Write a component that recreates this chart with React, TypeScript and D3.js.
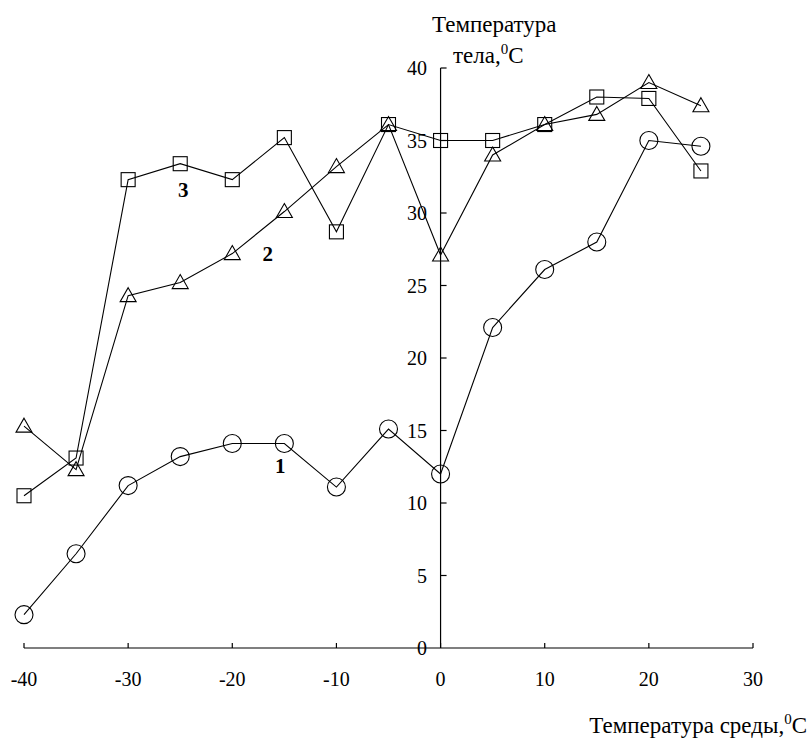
import * as d3 from 'd3';

// air temperature, °C
const airTemp = [-40, -35, -30, -25, -20, -15, -10, -5, 0, 5, 10, 15, 20, 25];
// body temperature, °C — three series
const series1 = [2.3, 6.5, 11.2, 13.2, 14.1, 14.1, 11.1, 15.1, 12.0, 22.1, 26.1, 28.0, 35.0, 34.6];
const series2 = [15.3, 12.3, 24.3, 25.2, 27.2, 30.1, 33.2, 36.1, 27.1, 34.0, 36.1, 36.8, 39.0, 37.4];
const series3 = [10.5, 13.1, 32.3, 33.4, 32.3, 35.2, 28.7, 36.1, 35.0, 35.0, 36.1, 38.0, 37.9, 32.9];
const xTicks = [-40, -30, -20, -10, 0, 10, 20, 30];
const yTicks = [0, 5, 10, 15, 20, 25, 30, 35, 40];
const seriesLabels = [
  { text: '1', x: -15.4, y: 12.55 },
  { text: '2', x: -16.6, y: 27.2 },
  { text: '3', x: -24.7, y: 31.6 },
];

const W = 807;
const H = 740;
const FONT = "'Liberation Serif', 'Times New Roman', 'DejaVu Serif', serif";

export default function App() {
  const x = d3.scaleLinear().domain([-40, 30]).range([24, 753]);
  const y = d3.scaleLinear().domain([0, 40]).range([648, 68]);
  const pts = (vals: number[]) => airTemp.map((t, i) => [x(t), y(vals[i])] as [number, number]);
  const line = d3.line();

  const s1 = pts(series1);
  const s2 = pts(series2);
  const s3 = pts(series3);
  const x0 = x(0);
  const y0 = y(0);

  return (
    <svg
      width={W}
      height={H}
      style={{ position: 'absolute', left: 0, top: 0, background: '#fff', fontFamily: FONT }}
    >
      {/* axes */}
      <g stroke="#000" strokeWidth={1.2} fill="none">
        <line x1={x(-40)} x2={x(30)} y1={y0} y2={y0} />
        <line x1={x0} x2={x0} y1={y0} y2={y(40)} />
        <line x1={x0} x2={x0 + 6} y1={y(40)} y2={y(40)} />
        {xTicks.map((t) => (
          <line key={t} x1={x(t)} x2={x(t)} y1={y0} y2={y0 - 5} />
        ))}
        {yTicks.slice(1, -1).map((t) => (
          <line key={t} x1={x0} x2={x0 + 6} y1={y(t)} y2={y(t)} />
        ))}
      </g>
      <g fontSize={20} fill="#000">
        {xTicks.map((t) => (
          <text key={t} x={x(t)} y={y0 + 38} textAnchor="middle">
            {t}
          </text>
        ))}
        {yTicks.map((t) => (
          <text key={t} x={427} y={y(t) + 7} textAnchor="end">
            {t}
          </text>
        ))}
      </g>

      {/* series lines */}
      <g stroke="#000" strokeWidth={1.1} fill="none">
        <path d={line(s1) || ''} />
        <path d={line(s2) || ''} />
        <path d={line(s3) || ''} />
      </g>

      {/* markers */}
      <g stroke="#000" strokeWidth={1.1} fill="none">
        {s1.map(([px, py], i) => (
          <circle key={i} cx={px} cy={py} r={9} />
        ))}
        {s2.map(([px, py], i) => (
          <path key={i} d={`M${px},${py - 8}L${px + 8},${py + 6}L${px - 8},${py + 6}Z`} />
        ))}
        {s3.map(([px, py], i) => (
          <rect key={i} x={px - 7} y={py - 7} width={14} height={14} />
        ))}
      </g>

      {/* series numbers */}
      <g fontSize={21} fontWeight="bold" fill="#000" textAnchor="middle">
        {seriesLabels.map((l) => (
          <text key={l.text} x={x(l.x)} y={y(l.y) + 7}>
            {l.text}
          </text>
        ))}
      </g>

      {/* axis titles */}
      <g fontSize={23} fill="#000">
        <text x={432} y={32}>Температура</text>
        <text x={453} y={63}>
          тела,<tspan dy={-9} fontSize={15}>0</tspan>
          <tspan dy={9}>C</tspan>
        </text>
        <text x={W} y={733} textAnchor="end">
          Температура среды,<tspan dy={-9} fontSize={15}>0</tspan>
          <tspan dy={9}>C</tspan>
        </text>
      </g>
    </svg>
  );
}
